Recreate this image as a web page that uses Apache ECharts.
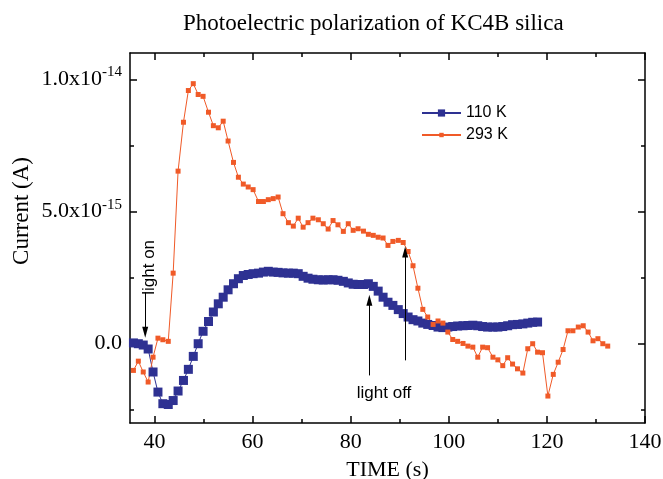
<!DOCTYPE html>
<html><head><meta charset="utf-8">
<script src="https://cdn.jsdelivr.net/npm/echarts@6/dist/echarts.min.js"></script>
<style>html,body{margin:0;padding:0;background:#fff}#c{width:663px;height:479px}</style>
</head><body><div id="c"></div>
<script>
// Time (s)
const time = [35.7,36.7,37.7,38.7,39.7,40.7,41.7,42.8,43.8,44.8,45.9,46.9,47.9,48.9,49.9,51.0,52.0,53.0,54.0,55.0,
  56.1,57.1,58.1,59.1,60.1,61.2,62.2,63.2,64.2,65.2,66.2,67.3,68.3,69.3,70.3,71.3,72.3,73.4,74.4,75.4,
  76.4,77.4,78.5,79.5,80.5,81.5,82.6,83.6,84.6,85.6,86.6,87.6,88.6,89.7,90.7,91.7,92.7,93.7,94.7,95.7,
  96.8,97.8,98.8,99.8,100.8,101.8,102.9,103.9,104.9,105.9,106.9,107.9,109.0,110.0,111.0,112.0,113.0,114.0,115.1,116.1,
  117.1,118.1,119.1,120.2,121.3,122.3,123.3,124.3,125.3,126.4,127.4,128.4,129.4,130.4,131.4,132.4];
// Current in units of 1e-15 A
const current110 = [0.03,0.0,-0.05,-0.2,-1.07,-1.83,-2.27,-2.30,-2.15,-1.79,-1.39,-0.97,-0.48,0.0,0.47,0.84,1.20,1.51,1.76,2.04,
  2.27,2.46,2.58,2.62,2.65,2.67,2.71,2.74,2.71,2.70,2.68,2.67,2.67,2.65,2.55,2.48,2.44,2.42,2.41,2.42,
  2.42,2.40,2.36,2.30,2.25,2.24,2.24,2.27,2.17,1.99,1.76,1.57,1.45,1.29,1.14,1.01,0.91,0.86,0.78,0.73,
  0.69,0.63,0.61,0.63,0.65,0.67,0.68,0.69,0.70,0.68,0.65,0.63,0.63,0.63,0.65,0.68,0.72,0.73,0.75,0.78,
  0.81,0.82];
const current293 = [-1.01,-0.66,-1.07,-1.45,-0.51,0.21,0.15,0.09,2.67,6.53,8.38,9.58,9.84,9.43,9.36,8.76,8.25,8.17,8.42,7.67,
  6.86,6.30,6.04,5.93,5.83,5.38,5.38,5.45,5.49,5.55,4.92,4.58,4.45,4.75,4.41,4.58,4.75,4.69,4.54,4.34,
  4.66,4.50,4.25,4.54,4.29,4.35,4.26,4.14,4.10,4.03,4.00,3.72,3.87,3.91,3.83,3.49,2.95,2.10,1.30,1.01,
  0.73,0.86,0.78,0.44,0.16,0.09,0.01,-0.09,-0.13,-0.51,-0.13,-0.15,-0.51,-0.61,-0.83,-0.53,-0.77,-0.95,-1.11,-0.19,
  0.0,-0.32,-0.34,-1.98,-1.16,-0.70,-0.22,0.49,0.49,0.63,0.68,0.44,0.11,0.19,0.0,-0.09];
const seriesNames = ['110 K','293 K'];
const xTicksMajor = [40,60,80,100,120,140];
const xTicksMinor = [50,70,90,110,130];
const yTicksMajor = [0,5,10];
const yTicksMinor = [-2.5,2.5,7.5];
const yTickLabels = {0:'{b|0.0}', 5:'{b|5.0x10}{s|-15}', 10:'{b|1.0x10}{s|-14}'};
// annotations: [x, yStart, yEnd]
const arrowLightOn = [38.1, 1.94, 0.43];
const arrowOff1 = [83.8, -1.20, 1.64];
const arrowOff2 = [91.1, -0.63, 3.47];
const textLightOn = [38.9, 2.89];
const textLightOff = [86.8, -1.87];

const SERIF = 'Liberation Serif';
const SANS = 'Liberation Sans';
const BLUE = '#2E3192';
const ORANGE = '#F05A28';

const d110 = current110.map((v,i)=>[time[i], v]);
const d293 = current293.map((v,i)=>[time[i], v]);

function xAx(pos, ticks, len, showLine, showLabel){
  return {type:'value', min:35, max:140, position:pos, gridIndex:0,
    axisLine:{show:showLine, onZero:false, lineStyle:{color:'#000', width:1.5}},
    axisTick:{show:true, inside:true, length:len, customValues:ticks, lineStyle:{color:'#000', width:1.5}},
    axisLabel:{show:showLabel, customValues:ticks, margin:8, fontFamily:SERIF, fontSize:22, color:'#000'},
    splitLine:{show:false}};
}
function yAx(pos, ticks, len, showLine, showLabel){
  return {type:'value', min:-3, max:11, position:pos, gridIndex:0,
    axisLine:{show:showLine, onZero:false, lineStyle:{color:'#000', width:1.5}},
    axisTick:{show:true, inside:true, length:len, customValues:ticks, lineStyle:{color:'#000', width:1.5}},
    axisLabel:{show:showLabel, customValues:ticks, margin:8, color:'#000',
      formatter: v => yTickLabels[v] || '',
      rich:{b:{fontFamily:SERIF, fontSize:22, color:'#000'},
            s:{fontFamily:SERIF, fontSize:15, color:'#000', padding:[0,0,14,0]}}},
    splitLine:{show:false}};
}
function arrow(a){
  return [{coord:[a[0], a[1]], symbol:'none'}, {coord:[a[0], a[2]], symbol:'triangle', symbolSize:[6,11]}];
}

const chart = echarts.init(document.getElementById('c'), null, {renderer:'canvas'});
const xa0 = xAx('bottom', xTicksMajor, 7, true, true);
xa0.name = 'TIME (s)'; xa0.nameLocation = 'middle'; xa0.nameGap = 36;
xa0.nameTextStyle = {fontFamily:SERIF, fontSize:22, color:'#000'};
chart.setOption({
  animation:false,
  backgroundColor:'#fff',
  title:{text:'Photoelectric polarization of KC4B silica', left:178, top:7,
    textStyle:{fontFamily:SERIF, fontSize:23, fontWeight:'normal', color:'#000'}},
  grid:{left:130, right:18, top:53, bottom:56, containLabel:false, outerBoundsMode:'none'},
  xAxis:[xa0, xAx('bottom', xTicksMinor, 4, false, false), xAx('top', xTicksMajor, 7, true, false), xAx('top', xTicksMinor, 4, false, false)],
  yAxis:[yAx('left', yTicksMajor, 7, true, true), yAx('left', yTicksMinor, 4, false, false), yAx('right', yTicksMajor, 7, true, false), yAx('right', yTicksMinor, 4, false, false)],
  legend:[
    {data:[seriesNames[0]], left:421, top:105, padding:0, itemWidth:39, itemHeight:9, textStyle:{fontFamily:SANS, fontSize:16, color:'#000'}},
    {data:[seriesNames[1]], left:421, top:127, padding:0, itemWidth:39, itemHeight:5.5, textStyle:{fontFamily:SANS, fontSize:16, color:'#000'}}
  ],
  graphic:[{type:'text', left:10, top:157, rotation:Math.PI/2,
    style:{text:'Current (A)', font:'23px "Liberation Serif"', fill:'#000'}}],
  series:[
    {name:seriesNames[0], type:'line', xAxisIndex:0, yAxisIndex:0, data:d110, symbol:'rect', symbolSize:9,
      showAllSymbol:true, itemStyle:{color:BLUE, borderWidth:0}, lineStyle:{color:BLUE, width:1},
      markLine:{silent:true, animation:false, label:{show:false}, lineStyle:{color:'#000', width:1, type:'solid'},
        data:[arrow(arrowLightOn), arrow(arrowOff1), arrow(arrowOff2)]},
      markPoint:{silent:true, symbol:'rect', symbolSize:0, animation:false,
        data:[
          {coord:textLightOn, label:{show:true, position:'inside', formatter:'light on', rotate:90, fontFamily:SANS, fontSize:17, color:'#000'}},
          {coord:textLightOff, label:{show:true, position:'inside', formatter:'light off', fontFamily:SANS, fontSize:17, color:'#000'}}
        ]}},
    {name:seriesNames[1], type:'line', xAxisIndex:0, yAxisIndex:0, data:d293, symbol:'rect', symbolSize:5,
      showAllSymbol:true, itemStyle:{color:ORANGE, borderWidth:0}, lineStyle:{color:ORANGE, width:1}}
  ]
});
</script></body></html>
